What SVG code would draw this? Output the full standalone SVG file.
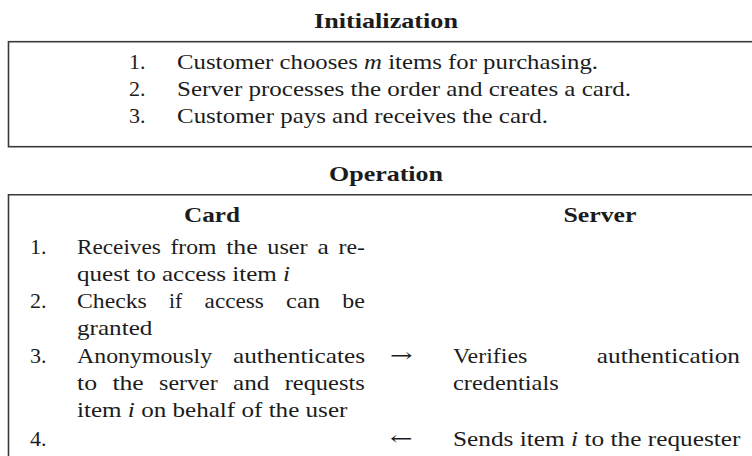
<svg xmlns="http://www.w3.org/2000/svg" width="752" height="456" viewBox="0 0 752 456">
<style>
text{font-family:"Liberation Serif","DejaVu Serif",serif;font-size:22px;fill:#1c1c1c}
.b{font-weight:bold}
.i{font-style:italic}
.box{fill:none;stroke:#3a3a3a;stroke-width:1.6}
.e{text-anchor:end}
.m{text-anchor:middle}
.arr{font-family:"DejaVu Serif",serif;font-size:20px}
</style>
<rect width="752" height="456" fill="#fff"/>
<g id="initialization">
<text class="b m" x="386" y="28" textLength="144" lengthAdjust="spacingAndGlyphs">Initialization</text>
<rect class="box" x="8.5" y="41.7" width="800" height="105"/>
<g id="init-1"><text x="129" y="68.5">1.</text><text x="177" y="68.5" textLength="421" lengthAdjust="spacingAndGlyphs">Customer chooses <tspan class="i">m</tspan> items for purchasing.</text></g>
<g id="init-2"><text x="129" y="95.6">2.</text><text x="177" y="95.6" textLength="454" lengthAdjust="spacingAndGlyphs">Server processes the order and creates a card.</text></g>
<g id="init-3"><text x="129" y="122.7">3.</text><text x="177" y="122.7" textLength="371" lengthAdjust="spacingAndGlyphs">Customer pays and receives the card.</text></g>
</g>
<g id="operation">
<text class="b m" x="386" y="181" textLength="114" lengthAdjust="spacingAndGlyphs">Operation</text>
<path class="box" d="M 810 194.7 H 8.5 V 470"/>
<text class="b m" x="212" y="222" textLength="56" lengthAdjust="spacingAndGlyphs">Card</text>
<text class="b m" x="600" y="222" textLength="73" lengthAdjust="spacingAndGlyphs">Server</text>
<g id="op-1">
<text x="30" y="254">1.</text>
<text x="77" y="254" textLength="83.8" lengthAdjust="spacingAndGlyphs">Receives</text>
<text x="170.5" y="254" textLength="45.9" lengthAdjust="spacingAndGlyphs">from</text>
<text x="226.2" y="254" textLength="31.4" lengthAdjust="spacingAndGlyphs">the</text>
<text x="267.3" y="254" textLength="40.4" lengthAdjust="spacingAndGlyphs">user</text>
<text x="317.4" y="254" textLength="11.3" lengthAdjust="spacingAndGlyphs">a</text>
<text x="338.5" y="254" textLength="26.4" lengthAdjust="spacingAndGlyphs">re-</text>
<text x="77" y="281" textLength="213" lengthAdjust="spacingAndGlyphs">quest to access item <tspan class="i">i</tspan></text>
</g>
<g id="op-2">
<text x="30" y="308">2.</text>
<text x="77" y="308" textLength="69.8" lengthAdjust="spacingAndGlyphs">Checks</text>
<text x="169.1" y="308" textLength="13.2" lengthAdjust="spacingAndGlyphs">if</text>
<text x="204.6" y="308" textLength="59.2" lengthAdjust="spacingAndGlyphs">access</text>
<text x="286.1" y="308" textLength="33.9" lengthAdjust="spacingAndGlyphs">can</text>
<text x="342.3" y="308" textLength="22.6" lengthAdjust="spacingAndGlyphs">be</text>
<text x="77" y="335" textLength="75.4" lengthAdjust="spacingAndGlyphs">granted</text>
</g>
<g id="op-3">
<text x="30" y="363">3.</text>
<text x="77" y="363" textLength="135.1" lengthAdjust="spacingAndGlyphs">Anonymously</text>
<text x="233" y="363" textLength="132" lengthAdjust="spacingAndGlyphs">authenticates</text>
<text x="77" y="390" textLength="20.1" lengthAdjust="spacingAndGlyphs">to</text>
<text x="112.4" y="390" textLength="31.4" lengthAdjust="spacingAndGlyphs">the</text>
<text x="159.1" y="390" textLength="58.6" lengthAdjust="spacingAndGlyphs">server</text>
<text x="233" y="390" textLength="36.4" lengthAdjust="spacingAndGlyphs">and</text>
<text x="284.7" y="390" textLength="80" lengthAdjust="spacingAndGlyphs">requests</text>
<text x="77" y="417" textLength="270.4" lengthAdjust="spacingAndGlyphs">item <tspan class="i">i</tspan> on behalf of the user</text>
<text x="453" y="363" textLength="74.3" lengthAdjust="spacingAndGlyphs">Verifies</text>
<text x="596.8" y="363" textLength="143.2" lengthAdjust="spacingAndGlyphs">authentication</text>
<text x="453" y="390" textLength="105.7" lengthAdjust="spacingAndGlyphs">credentials</text>
</g>
<g id="op-4">
<text x="30" y="446">4.</text>
<text x="453" y="446" textLength="287.5" lengthAdjust="spacingAndGlyphs">Sends item <tspan class="i">i</tspan> to the requester</text>
</g>
</g>
<g id="connectors">
<text class="arr" x="390" y="362" textLength="22.6" lengthAdjust="spacingAndGlyphs">→</text>
<text class="arr" x="390" y="445" textLength="22.6" lengthAdjust="spacingAndGlyphs">←</text>
</g>
</svg>
